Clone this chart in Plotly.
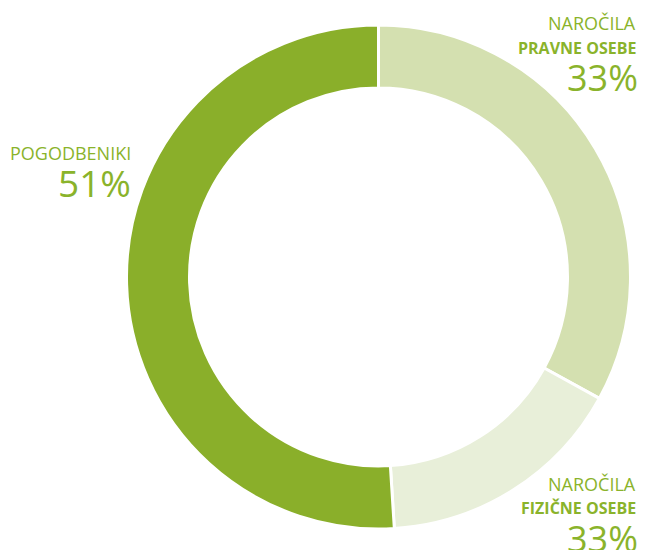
import plotly.graph_objects as go

labels = ["Naročila pravne osebe", "Naročila fizične osebe", "Pogodbeniki"]
values = [33, 16, 51]
colors = ["#d4e0b0", "#e8efd9", "#8aaf2a"]
label_texts = [
    ("NAROČILA", "PRAVNE OSEBE", "33%"),
    ("NAROČILA", "FIZIČNE OSEBE", "33%"),
    ("POGODBENIKI", None, "51%"),
]

W, H = 646, 550
# page has an 8px body margin, so shift everything back by that much
OX, OY = 8, 8
text_color = "#8ab32b"
font_family = "Open Sans, Noto Sans, sans-serif"

fig = go.Figure(go.Pie(
    labels=labels, values=values,
    hole=0.75, sort=False, direction="clockwise", rotation=0,
    marker=dict(colors=colors, line=dict(color="white", width=3)),
    textinfo="none", showlegend=False,
    domain=dict(x=[(126 - OX) / W, (631 - OX) / W],
                y=[1 - (529 - OY) / H, 1 - (25 - OY) / H]),
))


def add_label(x_px, y_px, text, size, bold=False):
    fig.add_annotation(
        x=(x_px - OX) / W, y=1 - (y_px - OY) / H, xref="paper", yref="paper",
        xanchor="right", yanchor="middle", showarrow=False,
        text=f"<b>{text}</b>" if bold else text,
        font=dict(family=font_family, size=size, color=text_color),
    )


# top right
add_label(638, 23, label_texts[0][0], 18)
add_label(638, 48, label_texts[0][1], 16, bold=True)
add_label(640, 78, label_texts[0][2], 36)
# bottom right
add_label(638, 484, label_texts[1][0], 18)
add_label(638, 508, label_texts[1][1], 16, bold=True)
add_label(640, 538, label_texts[1][2], 36)
# left
add_label(133, 153, label_texts[2][0], 18)
add_label(133, 183, label_texts[2][2], 37)

fig.update_layout(
    width=W, height=H,
    margin=dict(l=0, r=0, t=0, b=0),
    paper_bgcolor="white", plot_bgcolor="white",
)

fig.write_html("out.html")
